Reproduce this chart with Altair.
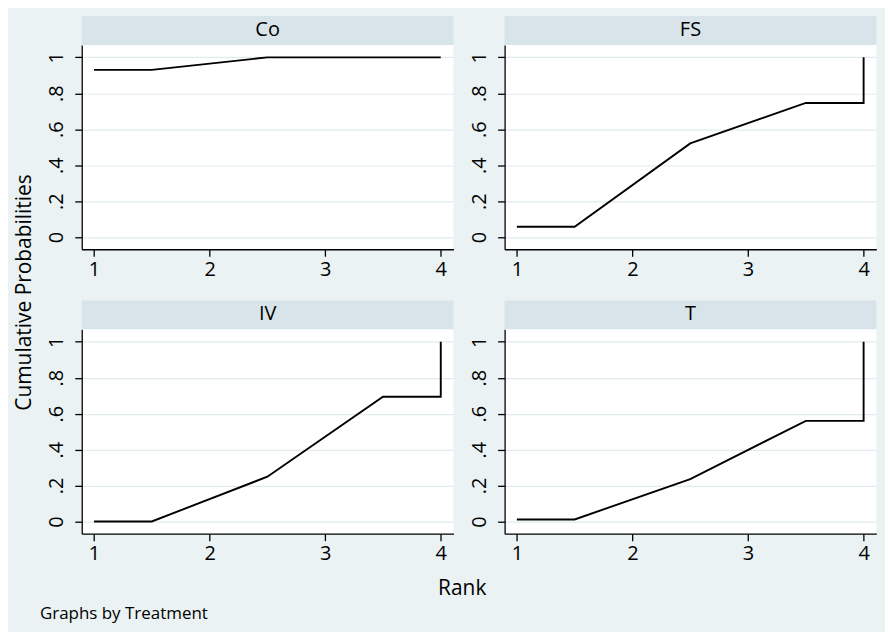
import altair as alt
import pandas as pd

# ---- data ----
treatments = ["Co", "FS", "IV", "T"]
cum_rank1 = [0.93, 0.057, 0.0, 0.011]
cum_rank2 = [1.0, 0.521, 0.249, 0.236]
cum_rank3 = [1.0, 0.746, 0.694, 0.56]
rank_positions = [1, 1.5, 2.5, 3.5, 4, 4]
y_ticks = [0, 0.2, 0.4, 0.6, 0.8, 1]
x_ticks = [1, 2, 3, 4]

rows = []
for t, c1, c2, c3 in zip(treatments, cum_rank1, cum_rank2, cum_rank3):
    ys = [c1, c1, c2, c3, c3, 1.0]
    for i, (x, y) in enumerate(zip(rank_positions, ys)):
        rows.append({"Treatment": t, "Rank": x, "Prob": y, "idx": i})
df = pd.DataFrame(rows)

FONT = "Open Sans"
BG = "#eaf2f3"
HEADER = "#d8e3ea"
GRID = "#e1ebee"
W, H, HH = 373, 205, 29


def panel(t, pos):
    lab = pd.DataFrame({"label": [t]})
    strip = alt.Chart(lab).mark_rect(color=HEADER).encode(
        x=alt.value(0), x2=alt.value(W), y=alt.value(-HH), y2=alt.value(0)
    )
    strip_text = alt.Chart(lab).mark_text(
        fontSize=20, font=FONT, color="black", baseline="middle", align="center"
    ).encode(x=alt.value(W / 2), y=alt.value(-HH / 2 - 0.5), text="label:N")

    if pos == 3:
        x_title = dict(title="Rank", titleX=-43, titleY=55, titleFontSize=21,
                       titleFont=FONT, titleFontWeight="normal", titleColor="black",
                       titleAlign="center", titleBaseline="middle")
    else:
        x_title = dict(title=None)
    if pos == 2:
        y_title = dict(title="Cumulative Probabilities", titleX=-57, titleY=-37.5,
                       titleAngle=270, titleFontSize=21, titleFont=FONT,
                       titleFontWeight="normal", titleColor="black",
                       titleAlign="center", titleBaseline="middle")
    else:
        y_title = dict(title=None)

    x_axis = alt.Axis(values=x_ticks, format="d", grid=False, domainColor="black",
                      domainWidth=1.3, tickColor="black", tickSize=7, tickWidth=1.3,
                      labelFontSize=20, labelFont=FONT, labelColor="black",
                      labelPadding=3, labelFlush=False, **x_title)
    y_axis = alt.Axis(values=y_ticks, grid=True, gridColor=GRID, gridWidth=1.2,
                      domainColor="black", domainWidth=1.3, tickColor="black",
                      tickSize=7, tickWidth=1.3, labelFontSize=20, labelFont=FONT,
                      labelColor="black", labelAngle=270, labelAlign="center",
                      labelBaseline="bottom", labelPadding=8, labelFlush=False,
                      labelExpr="datum.value == 0 ? '0' : datum.value == 1 ? '1' : replace(format(datum.value, '.1f'), '0.', '.')",
                      **y_title)
    line = (
        alt.Chart(df[df["Treatment"] == t])
        .mark_line(color="black", strokeWidth=1.9)
        .encode(
            x=alt.X("Rank:Q", axis=x_axis,
                    scale=alt.Scale(domain=[0.894, 4.11], nice=False, zero=False)),
            y=alt.Y("Prob:Q", axis=y_axis,
                    scale=alt.Scale(domain=[-0.068, 1.069], nice=False, zero=False)),
            order=alt.Order("idx:Q"),
        )
    )
    return alt.layer(strip, strip_text, line).properties(
        width=W, height=H, view=alt.ViewBackground(fill="white", strokeWidth=0)
    )


chart = (
    alt.concat(
        panel("Co", 0), panel("FS", 1), panel("IV", 2), panel("T", 3),
        columns=2, spacing={"row": 51.4 + HH, "column": 51.3}, bounds="flush",
    )
    .properties(
        background=BG,
        padding={"left": 5, "top": 7, "right": 8, "bottom": 8},
        title=alt.TitleParams("Graphs by Treatment", orient="bottom", anchor="start",
                              fontSize=17, font=FONT, fontWeight="normal",
                              color="black", offset=8, dx=26),
    )
    .configure_view(strokeWidth=0)
)

chart.save("out.html", embed_options={"renderer": "svg", "actions": False})
